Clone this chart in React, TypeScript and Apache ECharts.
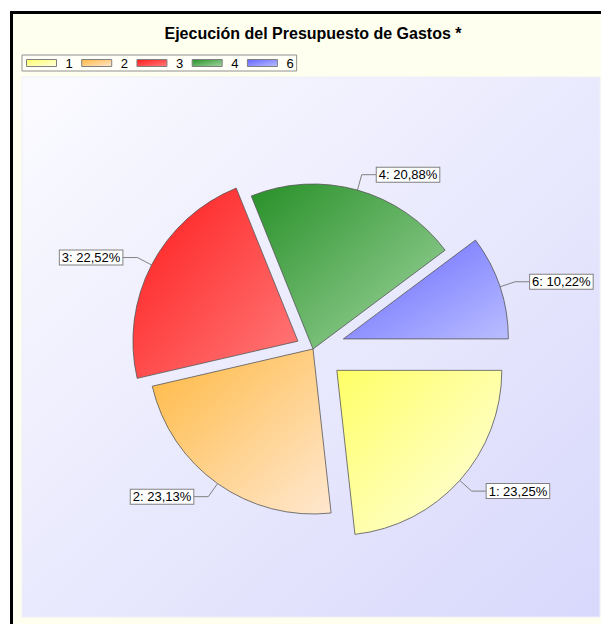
import React, { useEffect, useRef } from "react";
import * as echarts from "echarts";

const title = "Ejecución del Presupuesto de Gastos *";
const categories = ["1", "2", "3", "4", "6"];
const values = [23.25, 23.13, 22.52, 20.88, 10.22];

const sliceColors: Record<string, [string, string]> = {
  "1": ["#ffff66", "#ffffe4"],
  "2": ["#ffb840", "#ffe8d0"],
  "3": ["#ff1a1a", "#ff7c7c"],
  "4": ["#279027", "#a2d6a2"],
  "6": ["#6464ff", "#babeff"],
};

// explode groups: each drawn as its own pie layer with its own offset
const explodeGroups = [
  { offset: 32, names: ["1", "6"] },
  { offset: 17, names: ["3"] },
  { offset: 0, names: ["2", "4"] },
];

const FONT = '"Liberation Sans", Arial, sans-serif';

function grad(c: [string, string]) {
  return new echarts.graphic.LinearGradient(0, 0, 1, 1, [
    { offset: 0, color: c[0] },
    { offset: 1, color: c[1] },
  ]);
}

export default function App() {
  const ref = useRef<HTMLDivElement>(null);
  useEffect(() => {
    if (!ref.current) return;
    const chart = echarts.init(ref.current, null, { renderer: "svg" });

    const series = explodeGroups.map((g, gi) => ({
      type: "pie",
      name: "g" + gi,
      center: [313, 349],
      radius: 165,
      startAngle: 0,
      clockwise: true,
      avoidLabelOverlap: false,
      selectedMode: "multiple",
      selectedOffset: g.offset,
      emphasis: { disabled: true },
      select: { itemStyle: { borderColor: "#555", borderWidth: 0.8 } },
      label: {
        show: true,
        position: "outside",
        alignTo: "none",
        distanceToLabelLine: 0,
        formatter: (p: any) => `${p.name}: ${p.percent.toFixed(2).replace(".", ",")}%`,
        fontFamily: FONT,
        fontSize: 13,
        lineHeight: 13,
        color: "#000",
        backgroundColor: "#fff",
        borderColor: "#808080",
        borderWidth: 1,
        padding: [1, 2, 0, 2],
      },
      labelLine: {
        show: true,
        length: 16,
        length2: 15,
        smooth: false,
        lineStyle: { color: "#808080", width: 1 },
      },
      data: categories.map((name, i) => {
        const visible = g.names.includes(name);
        if (!visible) {
          return {
            name,
            value: values[i],
            itemStyle: { color: "rgba(0,0,0,0)", borderWidth: 0 },
            label: { show: false },
            labelLine: { show: false },
          };
        }
        return {
          name,
          value: values[i],
          selected: g.offset > 0,
          itemStyle: {
            color: grad(sliceColors[name]),
            borderColor: "#555",
            borderWidth: 0.8,
          },
        };
      }),
    }));

    chart.setOption({
      animation: false,
      backgroundColor: "#ffffff",
      graphic: [
        {
          type: "rect",
          z: -10,
          silent: true,
          shape: { x: 11.5, y: 12.5, width: 700, height: 700 },
          style: { fill: "#fffff0", stroke: "#000", lineWidth: 3 },
        },
        {
          type: "rect",
          z: -9,
          silent: true,
          shape: { x: 22, y: 77, width: 578, height: 540 },
          style: {
            fill: new echarts.graphic.LinearGradient(0, 0, 1, 1, [
              { offset: 0, color: "#fbfbff" },
              { offset: 1, color: "#d8d8fc" },
            ]),
            stroke: "#eeeef8",
            lineWidth: 1,
          },
        },
        {
          type: "text",
          z: 5,
          silent: true,
          style: {
            text: title,
            x: 313,
            y: 33,
            textAlign: "center",
            textVerticalAlign: "middle",
            font: `bold 16px ${FONT}`,
            fill: "#000",
          },
        },
      ],
      legend: {
        left: 22,
        top: 55,
        orient: "horizontal",
        itemWidth: 30,
        itemHeight: 7,
        itemGap: 8.5,
        padding: [1, 3, 1, 4],
        backgroundColor: "#fffff8",
        borderColor: "#909090",
        borderWidth: 1,
        borderRadius: 0,
        selectedMode: false,
        icon: "rect",
        textStyle: {
          fontFamily: FONT,
          fontSize: 13,
          lineHeight: 14,
          color: "#000",
          padding: [0, 0, 0, 4],
        },
        data: categories.map((name) => ({
          name,
          icon: "rect",
          itemStyle: {
            color: grad(sliceColors[name]),
            borderColor: "#808080",
            borderWidth: 1,
          },
        })),
      },
      series,
    });

    return () => chart.dispose();
  }, []);

  return (
    <div
      ref={ref}
      style={{ position: "absolute", left: 0, top: 0, width: 601, height: 624 }}
    />
  );
}
